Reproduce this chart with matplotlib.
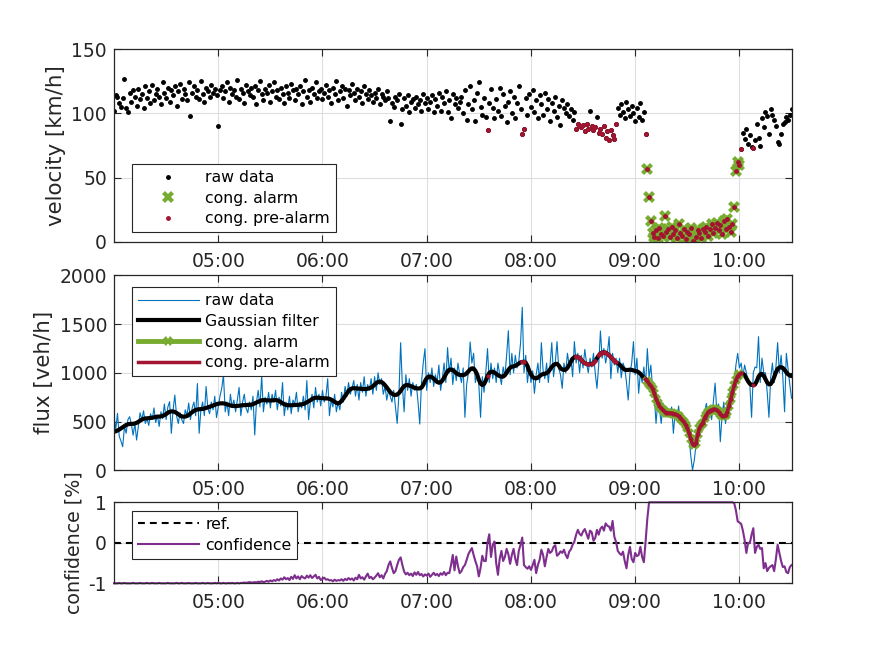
import numpy as np
import matplotlib
matplotlib.use("Agg")
import matplotlib.pyplot as plt

plt.rcParams["font.family"] = ["DejaVu Sans"]
plt.rcParams["axes.unicode_minus"] = False

# one sample per minute, starting 04:00
start_hour = 4.0
end_hour = 10.5
tick_hours = [5, 6, 7, 8, 9, 10]
tick_labels = ["05:00", "06:00", "07:00", "08:00", "09:00", "10:00"]

velocity = [
    102, 114, 113, 108, 105, 112, 127, 104, 101, 116, 109, 118, 113, 106, 119, 111, 115, 104, 121, 112,
    117, 108, 122, 110, 115, 119, 113, 107, 124, 116, 112, 120, 109, 118, 114, 121, 106, 117, 123, 111,
    119, 115, 110, 124, 98, 116, 121, 113, 118, 111, 125, 115, 109, 120, 117, 113, 122, 116, 119, 114,
    90, 118, 121, 112, 117, 124, 109, 120, 115, 118, 113, 126, 111, 119, 116, 108, 122, 117, 114, 120,
    113, 121, 107, 118, 125, 115, 110, 119, 116, 122, 109, 117, 124, 113, 118, 111, 120, 115, 108, 121,
    116, 112, 123, 118, 110, 119, 115, 121, 107, 117, 126, 113, 118, 109, 120, 115, 124, 112, 117, 119,
    111, 116, 122, 113, 118, 108, 120, 115, 125, 110, 117, 121, 112, 119, 106, 118, 114, 123, 116, 110,
    119, 113, 117, 108, 121, 115, 111, 118, 114, 109, 116, 112, 119, 107, 115, 113, 110, 117, 112, 94,
    108, 105, 113, 110, 115, 92, 103, 112, 106, 114, 101, 109, 111, 104, 113, 107, 110, 102, 115, 108,
    112, 103, 109, 114, 101, 111, 106, 116, 102, 113, 108, 117, 101, 110, 96, 115, 107, 112, 104, 109,
    113, 100, 118, 95, 107, 121, 103, 110, 94, 116, 124, 105, 99, 112, 97, 87, 108, 119, 104, 96,
    111, 102, 120, 98, 115, 106, 93, 109, 117, 100, 113, 96, 108, 121, 103, 84, 88, 112, 99, 115,
    105, 118, 101, 110, 96, 114, 107, 99, 116, 103, 111, 94, 108, 102, 113, 97, 106, 91, 110, 104,
    100, 107, 98, 103, 95, 101, 88, 92, 90, 89, 91, 86, 92, 88, 102, 90, 87, 89, 97, 85,
    88, 84, 90, 81, 86, 79, 87, 83, 80, 92, 104, 99, 107, 101, 96, 109, 103, 98, 106, 100,
    94, 104, 97, 108, 95, 101, 84, 57, 35, 16, 7, 4, 9, 3, 11, 6, 5, 20, 8, 10,
    4, 12, 6, 9, 3, 14, 7, 5, 10, 2, 8, 6, 11, 1, 0, 4, 9, 7, 3, 10,
    8, 12, 5, 10, 14, 7, 11, 15, 9, 13, 6, 16, 10, 18, 12, 8, 14, 27, 55, 62,
    60, 72, 85, 80, 88, 76, 83, 74, 73, 79, 92, 81, 75, 96, 89, 101, 98, 84, 103, 99,
    95, 90, 78, 76, 84, 92, 93, 97, 95, 99, 103,
]

flux_raw = [
    560, 420, 584, 350, 300, 242, 447, 380, 520, 550,
    470, 360, 480, 310, 450, 590, 520, 610, 480, 530,
    460, 580, 520, 640, 490, 560, 450, 600, 530, 680,
    520, 650, 704, 379, 620, 772, 560, 480, 590, 520,
    480, 620, 560, 690, 520, 640, 700, 560, 890, 379,
    620, 700, 560, 860, 640, 580, 700, 620, 760, 540,
    650, 760, 840, 977, 600, 700, 560, 780, 650, 720,
    600, 720, 850, 560, 700, 780, 640, 590, 700, 620,
    760, 362, 700, 820, 650, 968, 600, 750, 680, 800,
    640, 780, 700, 820, 620, 750, 660, 900, 560, 700,
    620, 760, 580, 720, 680, 800, 600, 700, 640, 760,
    620, 920, 520, 700, 780, 640, 850, 700, 780, 660,
    820, 700, 760, 940, 560, 720, 650, 780, 600, 700,
    620, 800, 700, 860, 760, 900, 780, 840, 920, 760,
    880, 720, 900, 800, 960, 760, 880, 820, 940, 780,
    960, 820, 1000, 880, 940, 780, 860, 720, 820, 760,
    700, 820, 650, 481, 780, 1309, 860, 600, 980, 820,
    940, 760, 900, 820, 880, 700, 474, 900, 1100, 1248,
    820, 1000, 900, 1050, 860, 980, 900, 1080, 820, 940,
    1100, 900, 1258, 1000, 1150, 880, 1050, 920, 1100, 980,
    900, 1050, 543, 880, 1000, 1316, 1100, 1200, 900, 1000,
    880, 543, 960, 800, 1000, 1248, 900, 1100, 940, 1050,
    900, 1100, 980, 880, 1060, 960, 1180, 1432, 980, 1200,
    1000, 1180, 1050, 1120, 1300, 1672, 1000, 1180, 900, 1060,
    900, 1020, 789, 980, 1100, 900, 1309, 1020, 940, 1100,
    900, 1080, 1310, 960, 1100, 1320, 1050, 980, 840, 1100,
    1000, 1200, 1080, 1150, 960, 1320, 1100, 1200, 1000, 1180,
    1050, 1240, 1100, 1000, 1150, 1060, 1200, 1000, 840, 1080,
    1429, 1150, 1250, 1100, 1200, 1371, 940, 1200, 1080, 1150,
    1000, 1150, 950, 1100, 1050, 900, 721, 1000, 1100, 1320,
    980, 1150, 789, 1000, 900, 1060, 880, 1248, 950, 1080,
    850, 760, 481, 700, 620, 481, 690, 560, 650, 600,
    560, 650, 379, 600, 520, 660, 480, 580, 420, 500,
    380, 340, 150, 3, 100, 260, 300, 420, 520, 470,
    600, 686, 560, 640, 520, 700, 894, 600, 680, 293,
    560, 700, 480, 620, 750, 860, 700, 900, 1080, 1200,
    1050, 1100, 960, 1080, 1000, 900, 880, 543, 1000, 1060,
    1050, 1371, 900, 1150, 1000, 1000, 800, 543, 950, 1100,
    900, 1060, 1310, 1000, 1180, 950, 600, 1200, 1040, 880,
    740,
]

flux_smooth = [
    396, 400, 408, 418, 430, 443, 455, 465, 472, 475,
    476, 477, 480, 487, 497, 509, 520, 528, 532, 533,
    534, 536, 540, 545, 549, 551, 551, 553, 558, 566,
    577, 590, 600, 604, 603, 598, 588, 575, 562, 553,
    550, 551, 557, 568, 582, 597, 610, 619, 624, 626,
    627, 630, 634, 639, 645, 651, 657, 664, 671, 678,
    683, 686, 687, 686, 683, 677, 670, 664, 660, 659,
    659, 660, 662, 665, 667, 668, 669, 669, 670, 673,
    678, 686, 695, 704, 712, 718, 720, 719, 717, 716,
    716, 717, 719, 720, 718, 711, 700, 688, 677, 670,
    668, 667, 667, 668, 669, 670, 671, 673, 676, 681,
    688, 697, 708, 720, 731, 740, 744, 745, 743, 741,
    739, 738, 738, 737, 733, 725, 714, 702, 692, 686,
    695, 712, 735, 762, 790, 815, 832, 840, 842, 841,
    840, 838, 836, 834, 833, 834, 837, 842, 850, 862,
    878, 895, 907, 910, 905, 892, 872, 850, 825, 803,
    785, 775, 772, 777, 792, 815, 842, 863, 874, 875,
    870, 862, 853, 846, 841, 839, 840, 848, 875, 915,
    945, 960, 962, 955, 940, 922, 906, 898, 902, 920,
    950, 985, 1015, 1032, 1035, 1027, 1012, 997, 985, 978,
    976, 977, 982, 995, 1015, 1035, 1046, 1044, 1020, 985,
    930, 890, 874, 885, 920, 965, 998, 1011, 1010, 1003,
    990, 976, 966, 960, 961, 975, 1000, 1030, 1052, 1063,
    1066, 1072, 1082, 1095, 1106, 1112, 1114, 1104, 1070, 1020,
    985, 958, 945, 943, 950, 966, 980, 988, 990, 996,
    1010, 1035, 1060, 1080, 1090, 1092, 1075, 1046, 1035, 1029,
    1033, 1050, 1080, 1115, 1145, 1160, 1166, 1163, 1150, 1130,
    1112, 1100, 1092, 1088, 1087, 1090, 1100, 1120, 1148, 1178,
    1198, 1208, 1211, 1207, 1195, 1180, 1160, 1140, 1122, 1108,
    1097, 1085, 1065, 1045, 1032, 1028, 1030, 1032, 1030, 1024,
    1020, 1015, 1005, 990, 970, 950, 933, 915, 890, 865,
    835, 790, 735, 690, 660, 635, 615, 600, 592, 590,
    588, 585, 582, 578, 570, 555, 540, 520, 495, 465,
    430, 385, 320, 268, 259, 280, 370, 430, 465, 490,
    540, 570, 598, 612, 620, 624, 624, 615, 598, 578,
    562, 556, 565, 600, 660, 730, 800, 870, 930, 965,
    985, 995, 993, 975, 945, 912, 888, 875, 875, 880,
    915, 960, 985, 988, 970, 935, 900, 881, 885, 910,
    955, 1005, 1040, 1055, 1058, 1050, 1030, 1005, 985, 972,
    967,
]

confidence = [
    -1.00, -1.00, -1.00, -0.99, -1.00, -1.00, -0.99, -1.00, -1.00, -1.00,
    -1.00, -0.99, -1.00, -1.00, -1.00, -0.99, -1.00, -1.00, -1.00, -0.99,
    -1.00, -1.00, -0.99, -1.00, -1.00, -1.00, -0.99, -1.00, -1.00, -1.00,
    -1.00, -0.99, -1.00, -1.00, -1.00, -1.00, -0.99, -1.00, -1.00, -0.99,
    -1.00, -1.00, -1.00, -0.99, -1.00, -1.00, -1.00, -0.99, -1.00, -1.00,
    -1.00, -0.99, -1.00, -1.00, -0.99, -1.00, -1.00, -1.00, -0.99, -1.00,
    -0.99, -1.00, -1.00, -0.99, -1.00, -1.00, -0.99, -1.00, -0.99, -1.00,
    -1.00, -0.99, -1.00, -0.99, -0.99, -0.98, -0.99, -0.98, -0.97, -0.98,
    -0.98, -0.97, -0.98, -0.96, -0.97, -0.95, -0.97, -0.96, -0.94, -0.96,
    -0.93, -0.95, -0.92, -0.94, -0.90, -0.93, -0.88, -0.91, -0.85, -0.90,
    -0.87, -0.92, -0.84, -0.89, -0.80, -0.88, -0.83, -0.90, -0.82, -0.86,
    -0.88, -0.81, -0.86, -0.80, -0.87, -0.83, -0.79, -0.88, -0.84, -0.92,
    -0.89, -0.86, -0.91, -0.90, -0.93, -0.92, -0.95, -0.91, -0.94, -0.92,
    -0.93, -0.90, -0.94, -0.89, -0.92, -0.87, -0.91, -0.88, -0.93, -0.86,
    -0.90, -0.79, -0.88, -0.85, -0.91, -0.83, -0.76, -0.87, -0.84, -0.90,
    -0.86, -0.81, -0.75, -0.85, -0.80, -0.88, -0.77, -0.70, -0.55, -0.46,
    -0.62, -0.75, -0.70, -0.55, -0.42, -0.36, -0.55, -0.71, -0.78, -0.74,
    -0.80, -0.76, -0.82, -0.73, -0.79, -0.72, -0.80, -0.77, -0.83, -0.78,
    -0.81, -0.76, -0.84, -0.79, -0.74, -0.80, -0.77, -0.82, -0.75, -0.79,
    -0.72, -0.80, -0.74, -0.75, -0.55, -0.30, -0.68, -0.34, -0.58, -0.75,
    -0.70, -0.60, -0.55, -0.42, -0.28, -0.20, -0.13, -0.30, -0.45, -0.58,
    -0.83, -0.62, -0.32, -0.45, -0.45, 0.00, 0.21, -0.35, -0.05, 0.03,
    -0.50, -0.79, -0.40, -0.20, -0.45, -0.35, -0.15, -0.28, -0.52, -0.30,
    -0.15, -0.40, -0.55, -0.20, -0.05, 0.13, -0.55, -0.60, -0.64, -0.58,
    -0.67, -0.55, -0.42, -0.75, -0.55, -0.42, -0.17, -0.30, -0.58, -0.35,
    -0.15, -0.25, -0.21, -0.10, -0.06, -0.32, -0.28, -0.21, -0.25, -0.17,
    -0.30, -0.38, -0.22, -0.16, -0.05, 0.03, 0.20, 0.32, 0.22, 0.18,
    0.28, 0.34, 0.22, 0.10, 0.30, 0.26, 0.05, 0.12, 0.32, 0.20,
    0.35, 0.40, 0.30, 0.48, 0.42, 0.40, 0.30, 0.54, 0.15, 0.02,
    -0.20, -0.26, -0.30, -0.22, -0.45, -0.63, -0.30, -0.10, -0.40, -0.48,
    -0.25, -0.33, -0.30, -0.10, -0.35, -0.48, 0.03, 0.60, 1.00, 1.00,
    1.00, 1.00, 1.00, 1.00, 1.00, 1.00, 1.00, 1.00, 1.00, 1.00,
    1.00, 1.00, 1.00, 1.00, 1.00, 1.00, 1.00, 1.00, 1.00, 1.00,
    1.00, 1.00, 1.00, 1.00, 1.00, 1.00, 1.00, 1.00, 1.00, 1.00,
    1.00, 1.00, 1.00, 1.00, 1.00, 1.00, 1.00, 1.00, 1.00, 1.00,
    1.00, 1.00, 1.00, 1.00, 1.00, 1.00, 1.00, 0.98, 0.80, 0.53,
    0.50, 0.47, 0.30, 0.07, -0.25, 0.00, -0.01, 0.20, 0.36, -0.25,
    -0.10, -0.05, -0.15, -0.13, -0.63, -0.50, -0.70, -0.62, -0.58, -0.55,
    -0.70, -0.40, -0.05, -0.25, -0.45, -0.60, -0.58, -0.72, -0.75, -0.60,
    -0.55,
]

ref_level = 0.0

# sample index spans (inclusive) flagged by the detector
alarm_spans = [(307, 360)]
prealarm_spans = [(215, 215), (235, 236), (266, 273), (275, 277), (279, 289), (306, 361), (368, 368)]

BLUE = "#0072BD"
GREEN = "#77AC30"
RED = "#A2142F"
PURPLE = "#7E2F8E"
DARK = "#262626"


def span_mask(spans, n):
    mask = np.zeros(n, dtype=bool)
    for a, b in spans:
        mask[a:b + 1] = True
    return mask


n = len(velocity)
t = start_hour + np.arange(n) / 60.0
vel = np.array(velocity, dtype=float)
fsm = np.array(flux_smooth, dtype=float)
alarm = span_mask(alarm_spans, n)
pre = span_mask(prealarm_spans, n)


def style(ax):
    ax.set_xlim(start_hour, end_hour)
    ax.set_xticks(tick_hours)
    ax.set_xticklabels(tick_labels)
    ax.grid(True, color="#dedede", linewidth=0.8)
    ax.set_axisbelow(True)
    ax.tick_params(direction="in", top=True, right=True, length=5, width=0.8,
                   colors=DARK, labelsize=13.5)
    ax.tick_params(axis="x", pad=7)
    ax.tick_params(axis="y", pad=5)
    for s in ax.spines.values():
        s.set_color(DARK)
        s.set_linewidth(0.9)


leg_kw = dict(fontsize=11.3, fancybox=False, framealpha=1, edgecolor=DARK,
              handlelength=3.9, handletextpad=0.4, labelspacing=0.36,
              borderpad=0.38, borderaxespad=0)

fig = plt.figure(figsize=(8.75, 6.56), dpi=100)
ax1 = fig.add_axes([0.1303, 0.6311, 0.7743, 0.2942])
ax2 = fig.add_axes([0.1303, 0.2831, 0.7743, 0.2972])
ax3 = fig.add_axes([0.1303, 0.1108, 0.7743, 0.1235])

# velocity
ax1.plot(t, vel, ".", color="k", ms=5, label="raw data")
ax1.plot(t[alarm], vel[alarm], "X", color=GREEN, ms=8, mew=0, label="cong. alarm")
ax1.plot(t[pre], vel[pre], ".", color=RED, ms=5, label="cong. pre-alarm")
style(ax1)
ax1.set_ylim(0, 150)
ax1.set_yticks([0, 50, 100, 150])
ax1.set_ylabel("velocity [km/h]", fontsize=15.4, color=DARK)
lg = ax1.legend(loc="lower left", bbox_to_anchor=(0.0261, 0.0503), **leg_kw)
lg.get_frame().set_linewidth(0.8)

# flux
ax2.plot(t, flux_raw, color=BLUE, lw=0.8, label="raw data")
ax2.plot(t, fsm, color="k", lw=3, label="Gaussian filter")
ax2.plot(t, np.where(alarm, fsm, np.nan), color=GREEN, lw=3.5, marker="X", ms=7, mew=0,
         label="cong. alarm")
ax2.plot(t, np.where(pre, fsm, np.nan), color=RED, lw=2.5, label="cong. pre-alarm")
ax2.plot(t[pre], fsm[pre], "o", color=RED, ms=3, mew=0)
style(ax2)
ax2.set_ylim(0, 2000)
ax2.set_yticks([0, 500, 1000, 1500, 2000])
ax2.set_ylabel("flux [veh/h]", fontsize=15.4, color=DARK)
lg = ax2.legend(loc="upper left", bbox_to_anchor=(0.0261, 0.9385), **leg_kw)
lg.get_frame().set_linewidth(0.8)

# confidence
ax3.axhline(ref_level, color="k", ls="--", lw=1.5, dashes=(3.3, 2.4), label="ref.")
ax3.plot(t, confidence, color=PURPLE, lw=1.5, label="confidence", clip_on=False)
style(ax3)
ax3.set_ylim(-1, 1)
ax3.set_yticks([-1, 0, 1])
ax3.set_ylabel("confidence [%]", fontsize=13.7, color=DARK)
lg = ax3.legend(loc="upper left", bbox_to_anchor=(0.0261, 0.8926), **leg_kw)
lg.get_frame().set_linewidth(0.8)

fig.savefig("out.png", dpi=100)
